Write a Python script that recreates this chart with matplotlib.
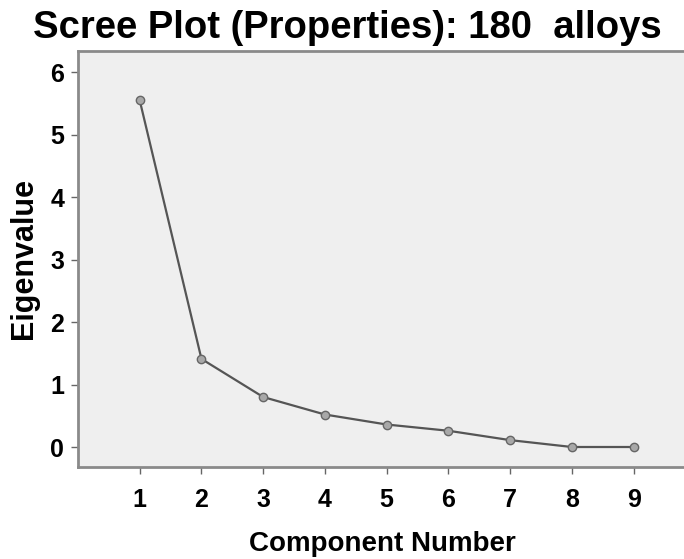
import matplotlib.pyplot as plt

plt.rcParams['font.family'] = ['Liberation Sans', 'DejaVu Sans']

components = [1, 2, 3, 4, 5, 6, 7, 8, 9]
eigenvalues = [5.55, 1.41, 0.80, 0.52, 0.36, 0.26, 0.11, 0.0, 0.0]
y_ticks = [0, 1, 2, 3, 4, 5, 6]

fig = plt.figure(figsize=(6.84, 5.59), dpi=100)
ax = fig.add_axes([0.114, 0.1646, 0.89, 0.7442])
ax.set_facecolor('#efefef')

ax.plot(components, eigenvalues, color='#555555', lw=1.6,
        marker='o', ms=6, mfc='#a8a8a8', mec='#666666', mew=1.0)

ax.set_xlim(0.0, 9.86)
ax.set_ylim(-0.32, 6.34)
ax.set_xticks(components)
ax.set_yticks(y_ticks)

for side in ['left', 'bottom', 'top']:
  ax.spines[side].set_color('#8a8a8a')
  ax.spines[side].set_linewidth(2)
ax.spines['right'].set_visible(False)

ax.tick_params(axis='both', direction='out', length=5, width=1, color='#666666',
               labelsize=18, pad=5)
ax.tick_params(axis='x', pad=10)
for lbl in ax.get_xticklabels() + ax.get_yticklabels():
  lbl.set_fontweight('bold')

ax.set_xlabel('Component Number', fontsize=20, fontweight='bold', labelpad=14)
ax.set_ylabel('Eigenvalue', fontsize=22, fontweight='bold', labelpad=8)
fig.text(0.508, 0.95, 'Scree Plot (Properties): 180  alloys', ha='center', va='center',
         fontsize=27.5, fontweight='bold')

plt.savefig('out.png', dpi=100)
plt.close()
